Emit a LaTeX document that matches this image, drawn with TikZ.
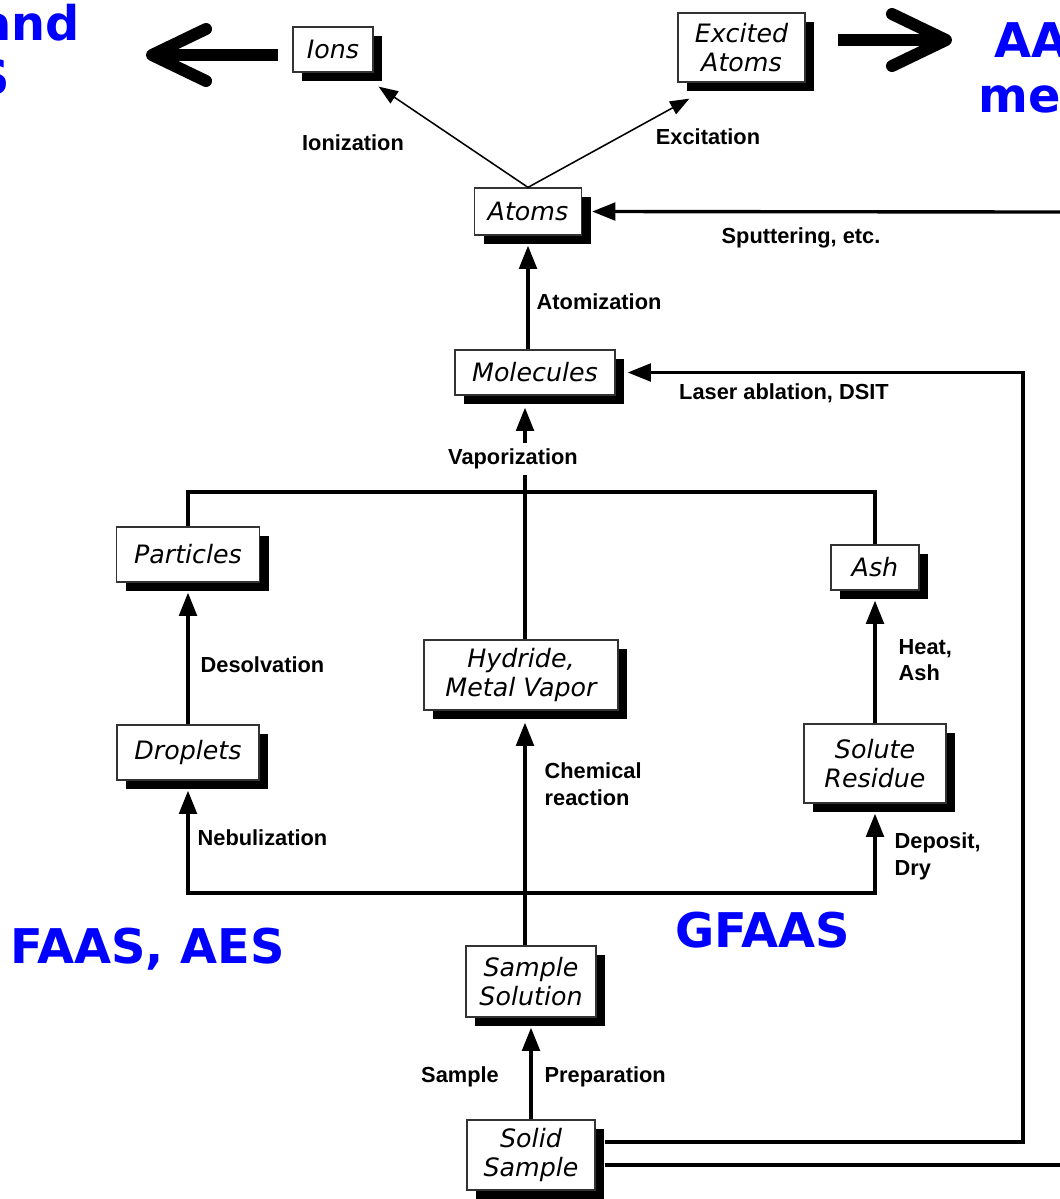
\documentclass[tikz,border=0pt]{standalone}
\usepackage{fontspec}
\setmainfont{Liberation Sans}
\newfontfamily\boitefont{DejaVu Sans}
\newfontfamily\bleufont{DejaVu Sans}
\usetikzlibrary{arrows.meta,shadows,calc}
\begin{document}
\begin{tikzpicture}[x=0.025cm,y=-0.025cm, % une unite = un pixel de l'image
  boite/.style={draw=black!80,line width=0.9pt,fill=white,inner sep=0pt,align=center,
    font=\boitefont\itshape\fontsize{18}{21}\selectfont,
    drop shadow={shadow xshift=2.3mm,shadow yshift=-2.3mm,fill=black,opacity=1}},
  etiq/.style={font=\bfseries\fontsize{15.5}{19}\selectfont,inner sep=1pt,align=left},
  ligne/.style={line width=2.4pt},
  fleche/.style={line width=2.4pt,-{Triangle[width=4.4mm,length=5.8mm]}},
  fin/.style={line width=1.1pt,-{Triangle[width=3.6mm,length=4.8mm]}},
  grosse/.style={line width=3mm,-{Straight Barb[length=13.5mm,width=13mm,line cap=round,line join=round]}},
  bleu/.style={text=blue,font=\bleufont\bfseries\fontsize{34}{40}\selectfont,inner sep=0pt}]
\useasboundingbox (0,0) rectangle (1060,1199); % le cadre de l'image
\clip (0,0) rectangle (1060,1199);
% les boites
\node[boite,minimum width=2cm,minimum height=1.125cm] (ions) at (333,49.5) {Ions};
\node[boite,minimum width=3.175cm,minimum height=1.725cm] (excited) at (741.5,47.5) {Excited\\Atoms};
\node[boite,minimum width=2.675cm,minimum height=1.175cm] (atoms) at (528,211.5) {Atoms};
\node[boite,minimum width=4cm,minimum height=1.125cm] (molecules) at (535,372.5) {Molecules};
\node[boite,minimum width=3.575cm,minimum height=1.375cm] (particles) at (188,554.5) {Particles};
\node[boite,minimum width=2.2cm,minimum height=1.125cm] (ash) at (875,567.5) {Ash};
\node[boite,minimum width=4.85cm,minimum height=1.75cm] (hydride) at (521,675) {Hydride,\\Metal Vapor};
\node[boite,minimum width=3.55cm,minimum height=1.375cm] (droplets) at (188,752.5) {Droplets};
\node[boite,minimum width=3.55cm,minimum height=1.975cm] (residue) at (875,763.5) {Solute\\Residue};
\node[boite,minimum width=3.25cm,minimum height=1.775cm] (solution) at (531,981.5) {Sample\\Solution};
\node[boite,minimum width=3.2cm,minimum height=1.75cm] (solid) at (531,1155) {Solid\\Sample};
% points de passage
\coordinate (jonction) at (525,492);
\coordinate (bas) at (525,893);
\coordinate (coinH) at (1023,372.5);
\coordinate (bordA) at (1060,212);
\coordinate (bordB) at (1060,1165);
\coordinate (gauche) at (146,55);
\coordinate (droite) at (952,40);
% les fleches
\draw[fin] (atoms.north) -- ($(ions.south east)+(5,14)$);
\draw[fin] (atoms.north) -- ($(excited.south west)+(12,16)$);
\draw[fleche] (molecules.north -| atoms) -- ($(atoms.south)+(0,10)$);
\draw[fleche] (bordA) -- ($(atoms.east)+(10,0)$);
\draw[fleche] ($(solid.east)+(9,-13)$) -| (coinH) -- ($(molecules.east)+(12,0)$);
\draw[ligne] ($(solid.east)+(9,10)$) -- (bordB);
\draw[fleche] (jonction) -- ($(molecules.south -| jonction)+(0,12)$);
\draw[ligne] (particles.north) |- (jonction) -| (ash.north);
\draw[ligne] (jonction) -- (jonction |- hydride.north);
\draw[fleche] (solution.north -| jonction) -- ($(hydride.south -| jonction)+(0,12)$);
\draw[fleche] (solid.north) -- ($(solution.south)+(0,10)$);
\draw[fleche] (bas) -| ($(droplets.south)+(0,10)$);
\draw[fleche] (bas) -| ($(residue.south)+(0,10)$);
\draw[fleche] (droplets.north) -- ($(particles.south)+(0,10)$);
\draw[fleche] (residue.north) -- ($(ash.south)+(0,10)$);
\draw[grosse] (278,55) -- (gauche);
\draw[grosse] (838,40) -- (droite);
% les etiquettes
\node[etiq] (ionisation) at (353,143) {Ionization};
\node[etiq] (excitation) at (708,137) {Excitation};
\node[etiq] (sputter) at (801,238) {Sputtering, etc.};
\node[etiq,anchor=west] (atomisation) at (535,302) {Atomization};
\node[etiq] (laser) at (784,393) {Laser ablation, DSIT};
\node[etiq,fill=white,inner sep=4pt] (vapo) at (513,459) {Vaporization};
\node[etiq,anchor=west] (desolv) at (199,665) {Desolvation};
\node[etiq,anchor=west] (chimie) at (543,784) {Chemical\\reaction};
\node[etiq,anchor=west] (chauffe) at (897,660) {Heat,\\Ash};
\node[etiq,anchor=west] (nebul) at (196,838) {Nebulization};
\node[etiq,anchor=west] (depot) at (893,856) {Deposit,\\Dry};
\node[etiq] (prepa1) at (460,1077) {Sample};
\node[etiq,anchor=west] (prepa2) at (543,1077) {Preparation};
% les textes bleus
\node[bleu,anchor=base east] (gtxt1) at (80,40) {and};
\node[bleu,anchor=base east] (gtxt2) at (10,94) {S};
\node[bleu,anchor=base west] (dtxt1) at (994,57) {AA};
\node[bleu,anchor=base west] (dtxt2) at (978,112) {me};
\node[bleu,anchor=base west] (faas) at (10,963) {FAAS, AES};
\node[bleu,anchor=base west] (gfaas) at (675,947) {GFAAS};
\end{tikzpicture}
\end{document}
